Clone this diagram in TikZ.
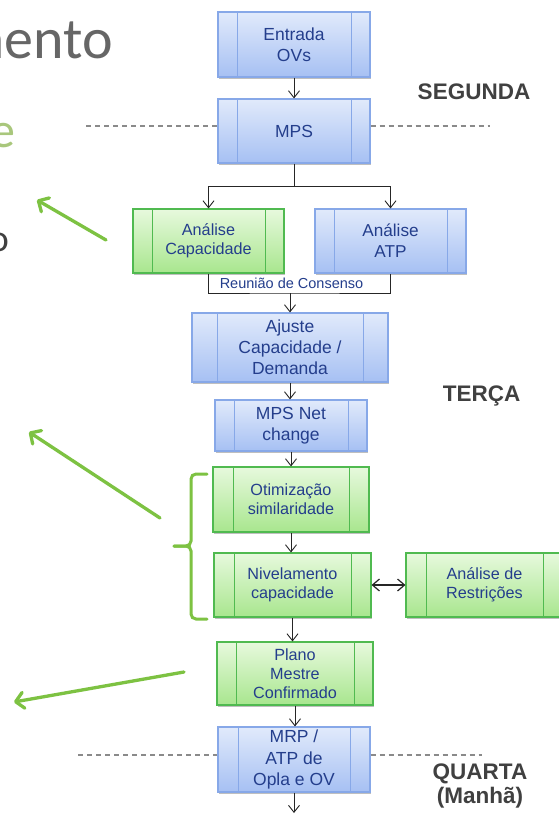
\documentclass[tikz,border=0pt]{standalone}
\usepackage{fontspec}
\setmainfont{Liberation Sans}
\newfontfamily\titlefont{Carlito}
\usetikzlibrary{arrows.meta,shadows,calc}

\definecolor{navy}{RGB}{36,62,140}
\definecolor{bTop}{RGB}{225,234,251}
\definecolor{bBot}{RGB}{166,192,243}
\definecolor{bLine}{RGB}{135,168,232}
\definecolor{gTop}{RGB}{231,249,221}
\definecolor{gBot}{RGB}{168,230,142}
\definecolor{gLine}{RGB}{80,186,80}
\definecolor{labelgray}{RGB}{64,64,64}
\definecolor{titlegray}{RGB}{102,102,102}
\definecolor{olive}{RGB}{169,199,124}
\definecolor{leafgreen}{RGB}{125,194,66}
\definecolor{dashgray}{RGB}{138,138,138}

% the two inner side bars of a "predefined process" box
\newcommand\procbars[1]{%
  \draw[#1,line width=1pt]
    ([xshift=\procinset]path picture bounding box.north west) --
    ([xshift=\procinset]path picture bounding box.south west)
    ([xshift=-\procinset]path picture bounding box.north east) --
    ([xshift=-\procinset]path picture bounding box.south east);}

\tikzset{
  inset/.store in=\procinset, inset=19pt,
  boxsize/.style 2 args={minimum width=#1pt, minimum height=#2pt},
  proc/.style={rectangle, inner sep=0pt, line width=1.1pt, align=center, text=navy,
    drop shadow={shadow xshift=0.8pt, shadow yshift=-1.6pt, opacity=0.25, fill=black}},
  bproc/.style={proc, top color=bTop, bottom color=bBot, draw=bLine,
    font=\fontsize{17.5}{21}\selectfont, path picture={\procbars{bLine}}},
  gproc/.style={proc, top color=gTop, bottom color=gBot, draw=gLine,
    font=\fontsize{16.2}{19.2}\selectfont, path picture={\procbars{gLine}}},
  link/.style={black!85, line width=0.9pt},
  arr/.style={link, -{Straight Barb[length=7pt,width=11pt]}},
  biarr/.style={black!85, line width=1.2pt,
    {Straight Barb[length=7pt,width=12pt]}-{Straight Barb[length=7pt,width=12pt]}},
  garr/.style={leafgreen, line width=3.3pt, line cap=round,
    -{Straight Barb[length=8pt,width=16pt,line cap=round,line join=round]}},
  gbrace/.style={leafgreen, line width=3pt, rounded corners=5pt, line cap=round},
  divider/.style={dashgray, line width=1.3pt, dash pattern=on 5pt off 4pt},
  day/.style={font=\bfseries\fontsize{22.5}{27}\selectfont, text=labelgray, anchor=base},
}

\begin{document}
\begin{tikzpicture}[x=1pt,y=-1pt]
\useasboundingbox (0,0) rectangle (559,814);
\clip (0,0) rectangle (559,814);
\fill[white] (0,0) rectangle (559,814);

% heading fragments on the left
\node[anchor=base east, inner sep=0pt, font=\titlefont\fontsize{58}{62}\selectfont, text=titlegray] (ttl) at (113,58) {mento};
\node[anchor=base east, inner sep=0pt, font=\titlefont\fontsize{50}{54}\selectfont, text=olive] (sub) at (16,147) {e};
\node[anchor=base east, inner sep=0pt, font=\titlefont\fontsize{38}{40}\selectfont, text=labelgray] (frag) at (9,251) {o};

% weekday dividers
\coordinate (d1) at (86,126);
\coordinate (d2) at (490,126);
\coordinate (d3) at (78,755);
\coordinate (d4) at (482,755);

% process boxes
\node[bproc, boxsize={152}{65}] (ent) at (294,44.5) {Entrada\\OVs};
\node[bproc, boxsize={152}{64}] (mps) at (294,131) {MPS};
\node[gproc, boxsize={151}{64}] (cap) at (208.5,241) {Análise\\Capacidade};
\node[bproc, boxsize={151}{64}, font=\fontsize{17.2}{21}\selectfont] (atp) at (390.5,241) {Análise\\ATP};
\node[bproc, boxsize={196}{69}, inset=25pt] (aju) at (290,347.5) {Ajuste\\Capacidade /\\Demanda};
\node[bproc, boxsize={152}{51}] (net) at (291,425.5) {MPS Net\\change};
\node[gproc, boxsize={156}{65}, inset=20pt] (oti) at (291,499.5) {Otimização\\similaridade};
\node[gproc, boxsize={157}{64}, inset=20pt] (niv) at (292.5,585) {Nivelamento\\capacidade};
\node[gproc, boxsize={157}{64}, inset=20pt] (res) at (484.5,585) {Análise de\\Restrições};
\node[gproc, boxsize={156}{63}] (pla) at (295,673.5) {Plano\\Mestre\\Confirmado};
\node[bproc, boxsize={152}{65}, inset=20pt, font=\fontsize{17.5}{21.5}\selectfont] (mrp) at (294,759.5) {MRP /\\ATP de\\Opla e OV};

\draw[divider] (d1) -- (d1 -| mps.west);
\draw[divider] (mps.east |- d2) -- (d2);
\draw[divider] (d3) -- (d3 -| mrp.west);
\draw[divider] (mrp.east |- d4) -- (d4);

% day labels
\node[day] (seg) at (474,99) {SEGUNDA};
\node[day] (ter) at (481.5,401) {TERÇA};
\node[day] (qua) at (480,779.5) {QUARTA};
\node[day] (man) at (480,803) {(Manhã)};

% flow
\coordinate (fork) at (294,186);
\coordinate (meet) at (290,293);
\coordinate (next) at (294,813);
\draw[arr] (ent) -- (mps);
\draw[link] (mps) -- (fork);
\draw[arr] (fork) -| (cap.north);
\draw[arr] (fork) -| (atp.north);
\draw[link] (cap.south) |- (meet) -| (atp.south);
\node[anchor=base, inner sep=0pt, font=\fontsize{14.5}{16}\selectfont, text=navy] (reu) at (291.5,288.5) {Reunião de Consenso};
\draw[arr] (meet) -- (aju.north);
\draw[arr] (aju.south) -- (aju.south |- net.north);
\draw[arr] (net.south) -- (net.south |- oti.north);
\draw[arr] (oti.south) -- (oti.south |- niv.north);
\draw[biarr] (niv.east) -- (res.west);
\draw[arr] (niv.south) -- (niv.south |- pla.north);
\draw[arr] (pla.south) -- (pla.south |- mrp.north);
\draw[arr] (mrp.south) -- (next);

% green pointers and brace
\coordinate (g1s) at (106,240);
\coordinate (g1e) at (37,200);
\coordinate (g2s) at (160,518);
\coordinate (g2e) at (29,432);
\coordinate (g3s) at (184,672);
\coordinate (g3e) at (14,702);
\draw[garr] (g1s) -- (g1e);
\draw[garr] (g2s) -- (g2e);
\draw[garr] (g3s) -- (g3e);
\draw[gbrace] (207,474) -| (191,546) -- (174,546);
\draw[gbrace] (207,619) -| (191,546) -- (174,546);
\end{tikzpicture}
\end{document}
